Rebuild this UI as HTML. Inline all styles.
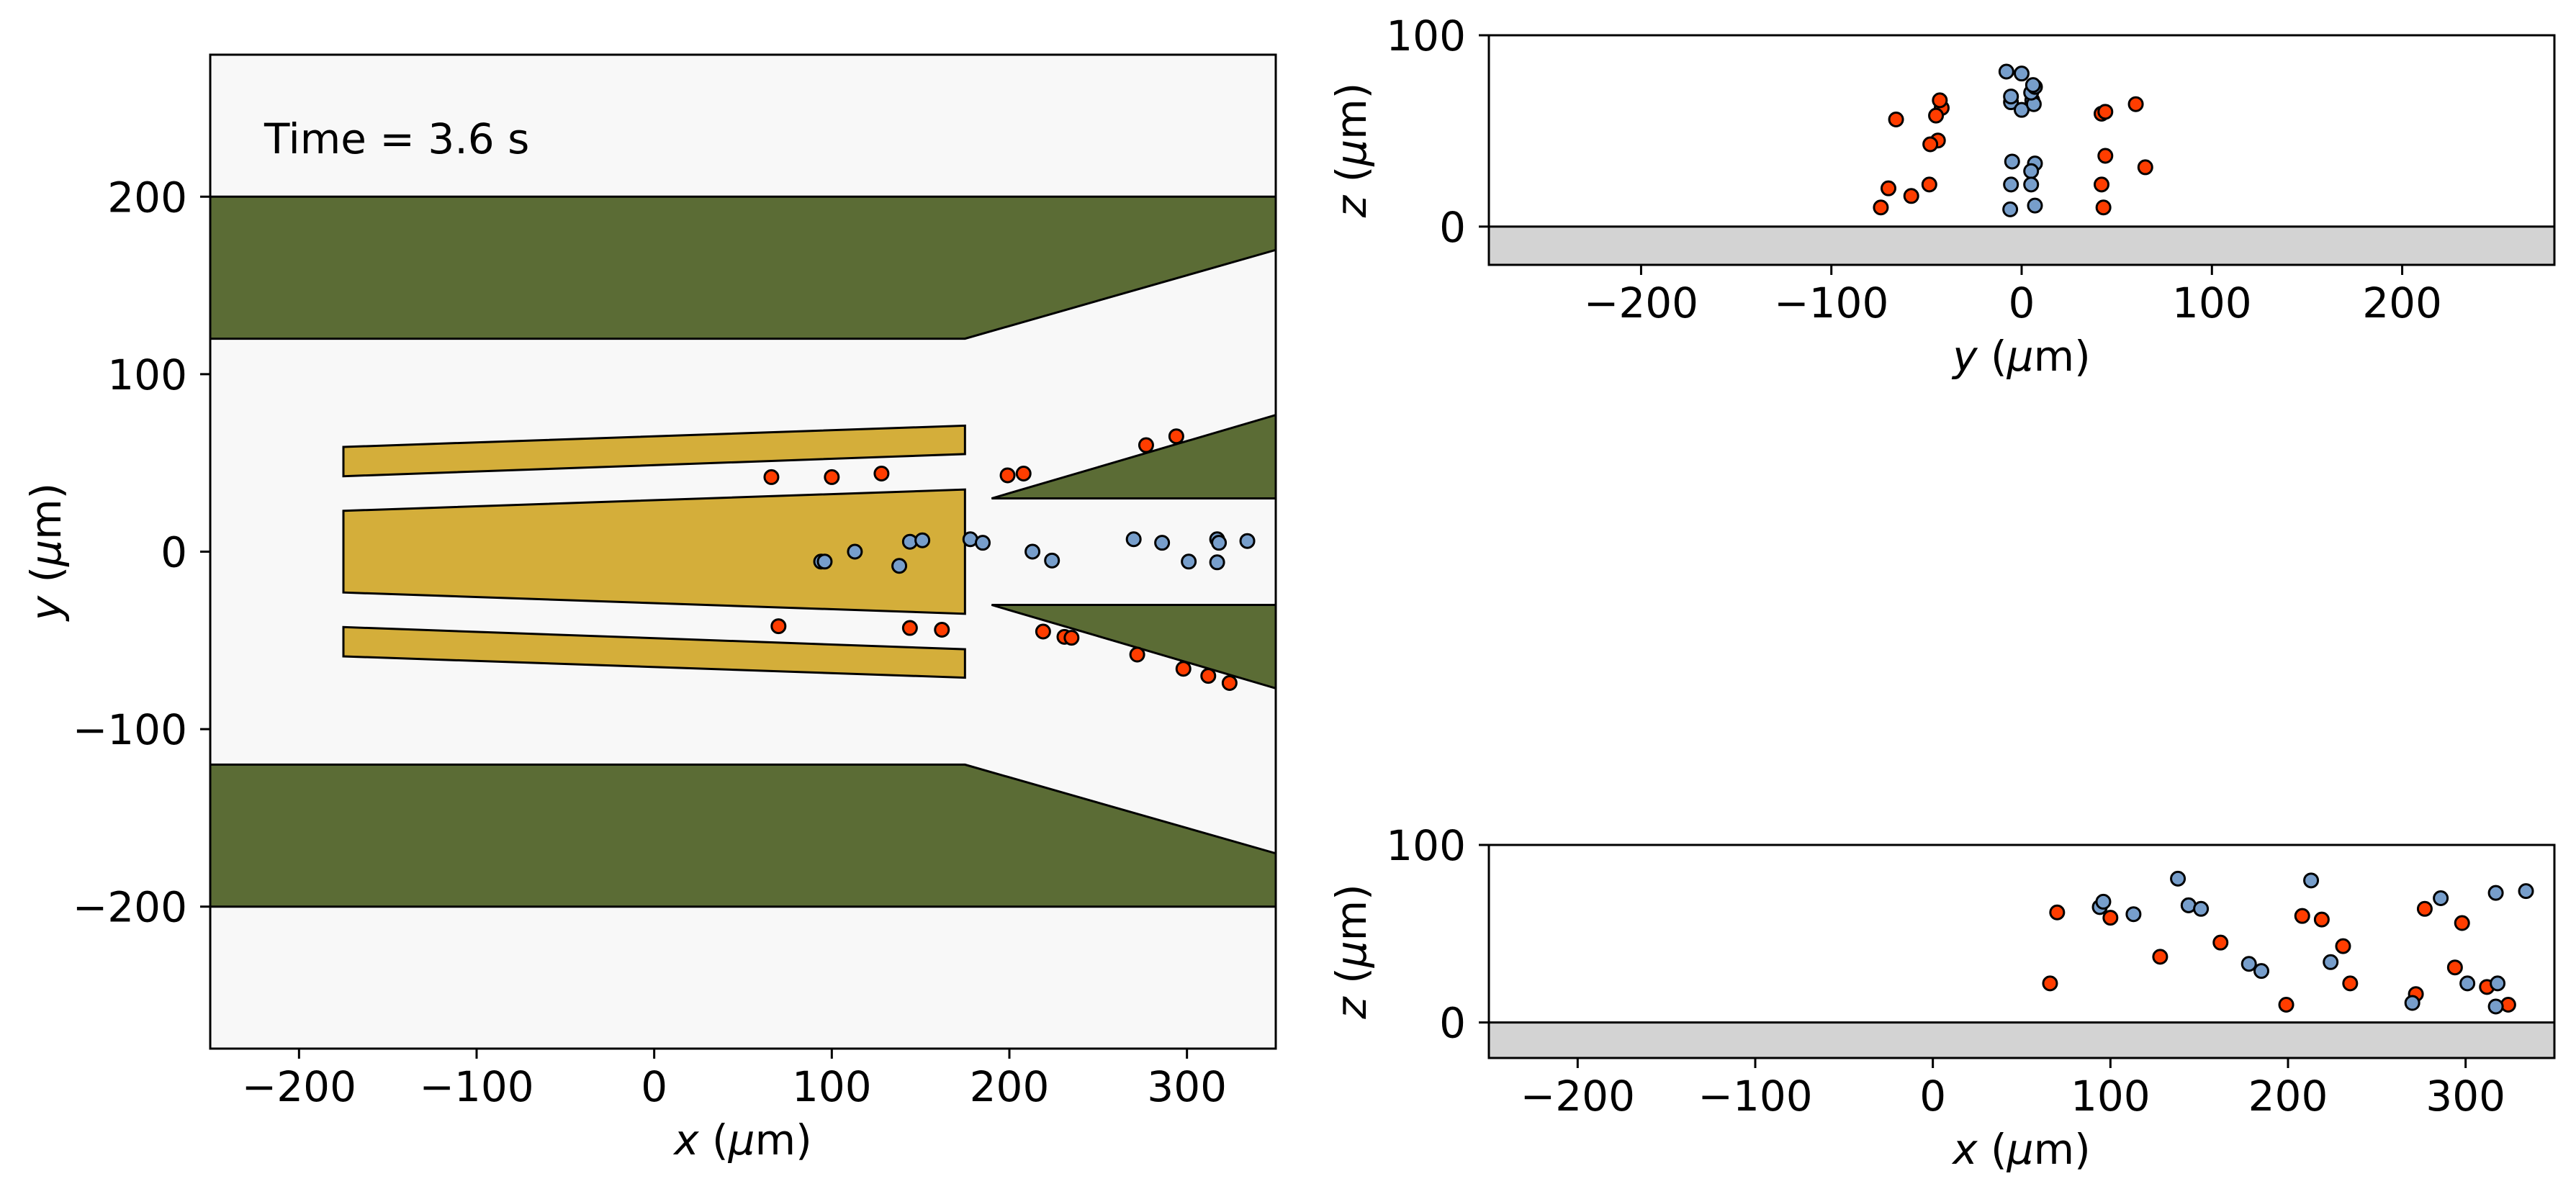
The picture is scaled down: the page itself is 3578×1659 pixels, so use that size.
<!DOCTYPE html>
<html><head><meta charset="utf-8"><style>
html,body{margin:0;padding:0;background:#fff}
svg{display:block}
text{font-family:"DejaVu Sans","Liberation Sans",sans-serif;font-size:58px;fill:#000}
</style></head><body>
<svg id="fig" xmlns="http://www.w3.org/2000/svg" width="3578" height="1659" viewBox="0 0 3578 1659"></svg>
<script>
// particle data (µm)
const redX = [66,100,128,199,208,277,294,70,144,162,219,231,235,272,298,312,324];
const redY = [42,42,44,43,44,60,65,-42,-43,-44,-45,-48,-48.5,-58,-66,-70,-74];
const redZ = [22,59,37,10,60,64,31,62,66,45,58,43,22,16,56,20,10];
const blueX = [94,96,113,138,144,151,178,185,213,224,270,286,301,317,318,317,334];
const blueY = [-5.6,-5.6,0,-8,5.6,6.4,7,5,0,-5,7,5,-5.6,7,5,-6,6];
const blueZ = [65,68,61,81,66,64,33,29,80,34,11,70,22,73,22,9,74];
// geometry (µm)
const wallTop = [[-250,200],[350,200],[350,170],[175,120],[-250,120]];
const wallBot = [[-250,-200],[350,-200],[350,-170],[175,-120],[-250,-120]];
const wedgeTop = [[190,30],[350,77],[350,30]];
const wedgeBot = [[190,-30],[350,-77],[350,-30]];
const elecMid = [[-175,23],[175,35],[175,-35],[-175,-23]];
const elecTop = [[-175,59],[175,71],[175,55],[-175,42.5]];
const elecBot = [[-175,-59],[175,-71],[175,-55],[-175,-42.5]];
const mainXTicks = [-200,-100,0,100,200,300];
const mainYTicks = [-200,-100,0,100,200];
const sideYTicks = [-200,-100,0,100,200];
const sideXTicks = [-200,-100,0,100,200,300];
const zTicks = [0,100];

const NS="http://www.w3.org/2000/svg";
const svg=document.getElementById('fig');
function mk(tag,attrs,parent){const e=document.createElementNS(NS,tag);for(const k in attrs)e.setAttribute(k,attrs[k]);(parent||svg).appendChild(e);return e;}
function lin(d0,d1,r0,r1){return v=>r0+(v-d0)*(r1-r0)/(d1-d0);}
function fmt(v){return v<0?'\u2212'+(-v):''+v;}

function panel(name,L,R,T,B,xd,yd,bg){
  const g=mk('g',{});
  
  
  const sx=lin(xd[0],xd[1],L,R), sy=lin(yd[0],yd[1],B,T);
  const r=mk('rect',{x:L,y:T,width:R-L,height:B-T,fill:bg},g);
  
  
  return {g,sx,sy,L,R,T,B};
}
function poly(p,pts,fill,name){
  const e=mk('polygon',{points:pts.map(q=>p.sx(q[0])+','+p.sy(q[1])).join(' '),fill:fill,stroke:'#000','stroke-width':3,'stroke-linejoin':'miter'},p.g);
  
  
}
function dots(p,xs,ys,fill,name){
  for(let i=0;i<xs.length;i++){
    const c=mk('circle',{cx:p.sx(xs[i]),cy:p.sy(ys[i]),r:9.5,fill:fill,stroke:'#000','stroke-width':3},p.g);
    
    
  }
}
function spines(p){
  const e=mk('rect',{x:p.L,y:p.T,width:p.R-p.L,height:p.B-p.T,fill:'none',stroke:'#000','stroke-width':3},p.g);
  
  
}
function xticks(p,ticks,name){
  for(const t of ticks){
    const x=p.sx(t);
    const l=mk('line',{x1:x,x2:x,y1:p.B,y2:p.B+14,stroke:'#000','stroke-width':3},p.g);
    
    
    const tx=mk('text',{x:x,y:p.B+73,'text-anchor':'middle'},p.g);
    tx.textContent=fmt(t);
    
    
  }
}
function yticks(p,ticks,name){
  for(const t of ticks){
    const y=p.sy(t);
    const l=mk('line',{x1:p.L-14,x2:p.L,y1:y,y2:y,stroke:'#000','stroke-width':3},p.g);
    
    
    const tx=mk('text',{x:p.L-32,y:y+21,'text-anchor':'end'},p.g);
    tx.textContent=fmt(t);
    
    
  }
}
function xlabel(p,v,name){
  const t=mk('text',{x:(p.L+p.R)/2,y:p.B+147,'text-anchor':'middle'},p.g);
  t.innerHTML='<tspan font-style="italic">'+v+'</tspan> (<tspan font-style="italic">\u03bc</tspan>m)';
  
  
}
function ylabel(p,v,x,name){
  const cy=(p.T+p.B)/2;
  const t=mk('text',{x:x,y:cy,'text-anchor':'middle',transform:'rotate(-90 '+x+' '+cy+')'},p.g);
  t.innerHTML='<tspan font-style="italic">'+v+'</tspan> (<tspan font-style="italic">\u03bc</tspan>m)';
  
  
}

// main x-y panel
const m=panel('xy-panel',292,1772,76,1457,[-250,350],[-280,280],'#f8f8f8');
poly(m,wallTop,'#5b6c35','upper-wall');
poly(m,wallBot,'#5b6c35','lower-wall');
poly(m,wedgeTop,'#5b6c35','upper-wedge');
poly(m,wedgeBot,'#5b6c35','lower-wedge');
poly(m,elecTop,'#d4ae3a','upper-electrode');
poly(m,elecMid,'#d4ae3a','middle-electrode');
poly(m,elecBot,'#d4ae3a','lower-electrode');
dots(m,redX,redY,'#ff3d00','red-particle');
dots(m,blueX,blueY,'#779ecb','blue-particle');
spines(m);
xticks(m,mainXTicks,'x-axis');
yticks(m,mainYTicks,'y-axis');
xlabel(m,'x','x-axis-title');
ylabel(m,'y',84,'y-axis-title');
const tt=mk('text',{x:367,y:213},m.g);
tt.textContent='Time = 3.6 s';



// y-z panel
const a=panel('yz-panel',2068,3548,49,368,[-280,280],[-20,100],'#fff');
const fa=mk('rect',{x:a.L,y:a.sy(0),width:a.R-a.L,height:a.B-a.sy(0),fill:'#d3d3d3',stroke:'#000','stroke-width':3},a.g);


dots(a,redY,redZ,'#ff3d00','red-particle');
dots(a,blueY,blueZ,'#779ecb','blue-particle');
spines(a);
xticks(a,sideYTicks,'yz-x-axis');
yticks(a,zTicks,'yz-z-axis');
xlabel(a,'y','yz-x-axis-title');
ylabel(a,'z',1897,'yz-z-axis-title');

// x-z panel
const b=panel('xz-panel',2068,3548,1174,1470,[-250,350],[-20,100],'#fff');
const fb=mk('rect',{x:b.L,y:b.sy(0),width:b.R-b.L,height:b.B-b.sy(0),fill:'#d3d3d3',stroke:'#000','stroke-width':3},b.g);


dots(b,redX,redZ,'#ff3d00','red-particle');
dots(b,blueX,blueZ,'#779ecb','blue-particle');
spines(b);
xticks(b,sideXTicks,'xz-x-axis');
yticks(b,zTicks,'xz-z-axis');
xlabel(b,'x','xz-x-axis-title');
ylabel(b,'z',1897,'xz-z-axis-title');
</script>
</body></html>
